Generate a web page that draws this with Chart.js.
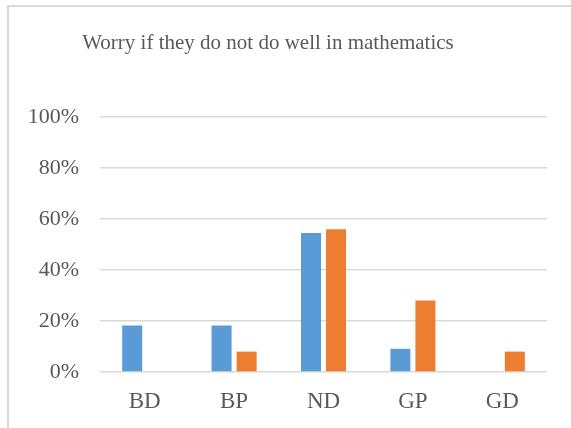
<!DOCTYPE html>
<html>
<head>
<meta charset="utf-8">
<script src="https://cdn.jsdelivr.net/npm/chart.js@4/dist/chart.umd.min.js"></script>
<style>
  html, body { margin: 0; padding: 0; background: #fff; overflow: hidden; }
  #wrap { position: relative; width: 571px; height: 428px; }
  #frame {
    position: absolute; left: 7px; top: 5px; width: 700px; height: 600px;
    border: 2px solid #d9d9d9; box-sizing: border-box;
  }
  #c { position: absolute; left: 0; top: 0; }
</style>
</head>
<body>
<div id="wrap">
  <div id="frame"></div>
  <canvas id="c" width="571" height="428"></canvas>
</div>
<script>
// Categories and series values (percent)
const categories = ['BD', 'BP', 'ND', 'GP', 'GD'];
const seriesBlue = [18.2, 18.2, 54.5, 9.1, 0];
const seriesOrange = [0, 8, 56, 28, 8];
const yTicks = [0, 20, 40, 60, 80, 100];
const titleText = 'Worry if they do not do well in mathematics';

const serif = "'Liberation Serif', 'DejaVu Serif', serif";
const textGray = '#595959';

// Title drawn on the canvas above the plot
const titlePlugin = {
  id: 'offsetTitle',
  afterDraw(chart) {
    const ctx = chart.ctx;
    ctx.save();
    ctx.font = '21px ' + serif;
    ctx.fillStyle = textGray;
    ctx.textAlign = 'center';
    ctx.textBaseline = 'alphabetic';
    ctx.fillText(titleText, 268, 49);
    ctx.restore();
  }
};

new Chart(document.getElementById('c'), {
  type: 'bar',
  data: {
    labels: categories,
    datasets: [
      { data: seriesBlue, backgroundColor: '#5b9bd5' },
      { data: seriesOrange, backgroundColor: '#ed7d31' }
    ]
  },
  options: {
    responsive: false,
    animation: false,
    devicePixelRatio: 1,
    layout: { padding: { top: 117, right: 24, bottom: 0, left: 0 } },
    datasets: { bar: { categoryPercentage: 0.56, barPercentage: 0.8 } },
    plugins: { legend: { display: false }, title: { display: false }, tooltip: { enabled: false } },
    scales: {
      x: {
        grid: { display: false, drawTicks: false },
        border: { display: false },
        ticks: { font: { family: serif, size: 23 }, color: textGray, padding: 16 },
        afterFit(scale) { scale.height = 56; }
      },
      y: {
        min: 0, max: 100,
        afterBuildTicks(scale) { scale.ticks = yTicks.map(v => ({ value: v })); },
        grid: { color: '#d9d9d9', lineWidth: 1.5, drawTicks: false },
        border: { display: false },
        ticks: {
          font: { family: serif, size: 22 }, color: textGray, padding: 21,
          callback: v => v + '%'
        },
        afterFit(scale) { scale.width = 100; }
      }
    }
  },
  plugins: [titlePlugin]
});
</script>
</body>
</html>
